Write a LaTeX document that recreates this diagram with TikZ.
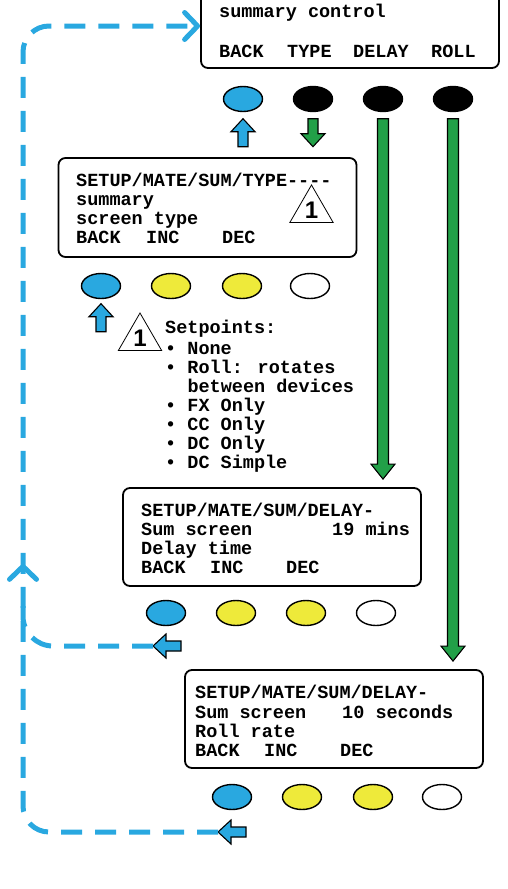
\documentclass[tikz,border=0pt]{standalone}
\usepackage{fontspec}
\usetikzlibrary{shapes.geometric,calc,arrows.meta,decorations.markings}
\newfontfamily\lcdfont{Liberation Mono}
\newfontfamily\numfont{Liberation Sans}
\definecolor{bblue}{RGB}{41,168,224}
\definecolor{bgreen}{RGB}{34,160,72}
\definecolor{byellow}{RGB}{238,234,58}
\tikzset{
 lcd/.style={font=\lcdfont\bfseries\fontsize{18.5}{19}\selectfont, inner sep=0pt, anchor=base west},
 screen/.style={draw, line width=1.8pt, rounded corners=7pt, minimum width=298pt, minimum height=98pt, inner sep=0pt},
 btn/.style={ellipse, draw, line width=1.4pt, minimum width=39pt, minimum height=25pt, inner sep=0pt},
 tri/.style={regular polygon, regular polygon sides=3, draw, line width=0.8pt, minimum size=50pt, inner sep=0pt, font=\numfont\bfseries\fontsize{24}{24}\selectfont},
 arrowline/.style={draw=black, line width=1.1pt, line join=miter},
 dashline/.style={draw=bblue, line width=5pt, dash pattern=on 21pt off 13pt},
 chev/.tip={Straight Barb[length=13pt,width=27pt,round]}
}
\newcommand\blockarr[4]{%
 \begin{scope}[shift={#2}, rotate=#3]
  \coordinate (#4) at (0,0);
  \draw[arrowline, fill=#1] (0,0) -- (-13,12) -- (-13,5) -- (-28,5) -- (-28,-5) -- (-13,-5) -- (-13,-12) -- cycle;
 \end{scope}}
\newcommand\longarr[3]{%
 \draw[arrowline, fill=#3] let \p1=#1, \p2=#2 in
  (\x1-5.5pt,\y1) -- (\x1+5.5pt,\y1) -- (\x1+5.5pt,\y2+15pt) -- (\x1+12pt,\y2+15pt)
  -- (\x1,\y2) -- (\x1-12pt,\y2+15pt) -- (\x1-5.5pt,\y2+15pt) -- cycle;}
\begin{document}
\begin{tikzpicture}[x=1pt, y=-1pt]
\useasboundingbox (0,0) rectangle (507,889);
% screens
\node[screen, minimum height=84pt] (s1) at (350,26) {};
\node[screen, minimum height=99pt] (s2) at (207.5,207.5) {};
\node[screen] (s3) at (272,537) {};
\node[screen] (s4) at (334,719) {};
% top screen text
\node[lcd] (tsum) at (219,17) {summary control};
\node[lcd] (tback) at (219,57) {BACK};
\node[lcd] (ttype) at (287,57) {TYPE};
\node[lcd] (tdelay) at (353,57) {DELAY};
\node[lcd] (troll) at (431,57) {ROLL};
% screen 2 text
\node[lcd] (aa) at (76,186) {SETUP/MATE/SUM/TYPE-{}-{}-{}-};
\node[lcd] (ab) at (76,205) {summary};
\node[lcd] (ac) at (76,224) {screen type};
\node[lcd] (ad) at (76,243) {BACK};
\node[lcd] (ae) at (146,243) {INC};
\node[lcd] (af) at (222,243) {DEC};
\node[tri] (tri1) at (311.5,210) {1};
% screen 3 text
\node[lcd] (ba) at (141,516) {SETUP/MATE/SUM/DELAY-};
\node[lcd] (bb) at (141,535) {Sum screen};
\node[lcd] (bc) at (332,535) {19 mins};
\node[lcd] (bd) at (141,554) {Delay time};
\node[lcd] (be) at (141,573) {BACK};
\node[lcd] (bf) at (210,573) {INC};
\node[lcd] (bg) at (286,573) {DEC};
% screen 4 text
\node[lcd] (ca) at (195,698) {SETUP/MATE/SUM/DELAY-};
\node[lcd] (cb) at (195,718) {Sum screen};
\node[lcd] (cc) at (342,718) {10 seconds};
\node[lcd] (cd) at (195,737) {Roll rate};
\node[lcd] (ce) at (195,756) {BACK};
\node[lcd] (cf) at (264,756) {INC};
\node[lcd] (cg) at (340,756) {DEC};
% setpoints note
\node[tri] (tri2) at (140,338) {1};
\node[lcd] (sp0) at (165,333) {Setpoints:};
\node[lcd] (sp1) at (165,354) {\textbullet{} None};
\node[lcd] (sp2) at (165,373) {\textbullet{} Roll: rotates};
\node[lcd] (sp3) at (187.3,392) {between devices};
\node[lcd] (sp4) at (165,411) {\textbullet{} FX Only};
\node[lcd] (sp5) at (165,430) {\textbullet{} CC Only};
\node[lcd] (sp6) at (165,449) {\textbullet{} DC Only};
\node[lcd] (sp7) at (165,468) {\textbullet{} DC Simple};
% buttons
\node[btn, fill=bblue] (t1) at (243,99) {};
\node[btn, fill=black] (t2) at (313,99) {};
\node[btn, fill=black] (t3) at (383,99) {};
\node[btn, fill=black] (t4) at (453,99) {};
\node[btn, fill=bblue] (u1) at (101,286) {};
\node[btn, fill=byellow] (u2) at (171,286) {};
\node[btn, fill=byellow] (u3) at (242,286) {};
\node[btn, fill=white] (u4) at (310,286) {};
\node[btn, fill=bblue] (v1) at (166,613) {};
\node[btn, fill=byellow] (v2) at (236,613) {};
\node[btn, fill=byellow] (v3) at (306,613) {};
\node[btn, fill=white] (v4) at (376,613) {};
\node[btn, fill=bblue] (w1) at (232,797) {};
\node[btn, fill=byellow] (w2) at (302,797) {};
\node[btn, fill=byellow] (w3) at (373,797) {};
\node[btn, fill=white] (w4) at (442,797) {};
% small block arrows
\blockarr{bblue}{($(t1.south)+(0,6.5)$)}{90}{ua1}
\blockarr{bgreen}{($(t2.south)+(0,34.5)$)}{-90}{da2}
\blockarr{bblue}{($(u1.south)+(0,4.5)$)}{90}{ub1}
\blockarr{bblue}{(153,646)}{180}{la3}
\blockarr{bblue}{(218,832)}{180}{la4}
% long green arrows
\longarr{($(t3.south)+(0,6.5)$)}{($(s3.north)+(0,-8)$)}{bgreen}
\longarr{($(t4.south)+(0,6.5)$)}{($(s4.north)+(0,-8)$)}{bgreen}
% dashed return paths
\draw[dashline, rounded corners=30pt] (la3) -| (23,595);
\draw[dashline, rounded corners=26pt, -{chev},
  postaction={decorate},
  decoration={markings, mark=at position 452pt with {\arrow{chev}}}]
  (la4) -| (23,26) -- (s1.west);
\end{tikzpicture}
\end{document}
